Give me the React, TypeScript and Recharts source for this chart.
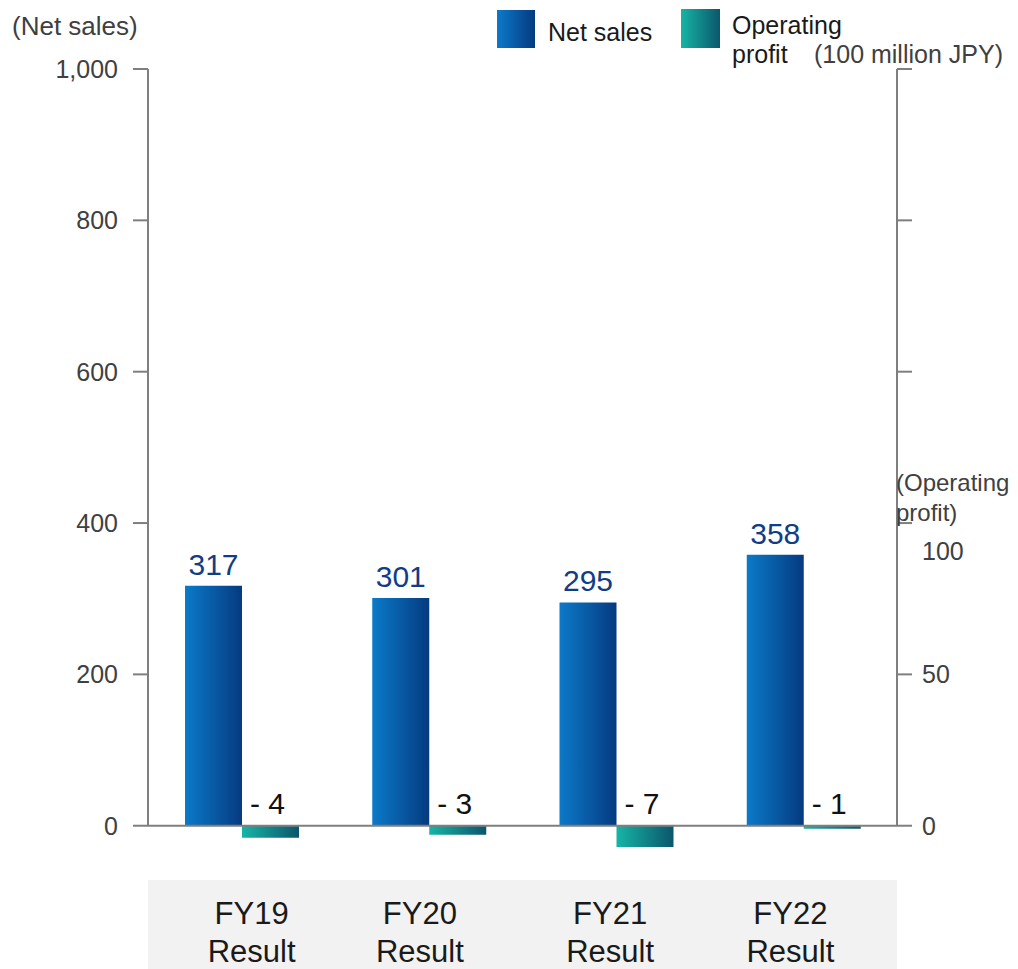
import React from 'react';
import { BarChart, Bar, XAxis, YAxis, CartesianGrid, ReferenceLine, LabelList } from 'recharts';

const categories = ['FY19', 'FY20', 'FY21', 'FY22'];
const categorySub = ['Result', 'Result', 'Result', 'Result'];
const netSales = [317, 301, 295, 358];
const operatingProfit = [-4, -3, -7, -1];
const leftTicks = [0, 200, 400, 600, 800, 1000];
const rightTicks = [0, 50, 100, 150, 200, 250];
const rightLabeledTicks = [0, 50, 100];

// small horizontal nudges of the category captions, as in the original layout
const captionNudge = [10, -9, -6, -13];

const data = categories.map((c, i) => ({ cat: c, sub: categorySub[i], net: netSales[i], op: operatingProfit[i] }));

const FONT = '"Liberation Sans", Arial, Helvetica, sans-serif';
const AXIS_GRAY = '#7f7f7f';

const XTick = (props: any) => {
  const { x, y, payload, width, visibleTicksCount } = props;
  const band = payload && payload.offset ? payload.offset * 2 : width / visibleTicksCount;
  const idx = categories.indexOf(payload.value);
  const cx = x + (captionNudge[idx] ?? 0);
  const first = idx === 0;
  const last = idx === categories.length - 1;
  const left = x - band / 2 - (first ? 0 : 1);
  const right = x + band / 2 + (last ? 0 : 1);
  return (
    <g>
      <rect x={left} y={y} width={right - left} height={89} fill="#f2f2f2" shapeRendering="crispEdges" />
      <text x={cx} y={y + 44} textAnchor="middle" fontSize={31} fill="#1a1a1a">{payload.value}</text>
      <text x={cx} y={y + 82} textAnchor="middle" fontSize={31} fill="#1a1a1a">{categorySub[idx] ?? 'Result'}</text>
    </g>
  );
};

const RightTick = (props: any) => {
  const { x, y, payload } = props;
  if (!rightLabeledTicks.includes(payload.value)) return <g />;
  const isTop = payload.value === rightLabeledTicks[rightLabeledTicks.length - 1];
  return (
    <text x={x} y={y + (isTop ? 28 : 0)} dy="0.355em" textAnchor="start" fontSize={25} fill="#404040">{payload.value}</text>
  );
};

const OpLabel = (props: any) => {
  const vb = props.viewBox || props;
  const { x, y, width, height } = vb;
  const value = props.value;
  const top = Math.min(y, y + height);
  const txt = value < 0 ? `- ${Math.abs(value)}` : `${value}`;
  return (
    <text x={x + width / 2 - 3} y={top - 12} textAnchor="middle" fontSize={30} fill="#111">{txt}</text>
  );
};

const gridGen = (props: any) => {
  const ax = props && props.yAxis;
  if (ax && typeof ax.scale === 'function') {
    return leftTicks.map((t) => ax.scale(t));
  }
  return [];
};

export default function App() {
  return (
    <div style={{ position: 'absolute', left: 0, top: 0, width: 1018, height: 969, fontFamily: FONT, background: '#fff' }}>
      <BarChart
        width={1018}
        height={969}
        data={data}
        margin={{ top: 69, right: 0, bottom: 0, left: 0 }}
        barGap={0}
      >
        <defs>
          <linearGradient id="gNet" x1="0" y1="0" x2="1" y2="0">
            <stop offset="0%" stopColor="#0b7ac9" />
            <stop offset="100%" stopColor="#053a80" />
          </linearGradient>
          <linearGradient id="gOp" x1="0" y1="0" x2="1" y2="0">
            <stop offset="0%" stopColor="#16b5a6" />
            <stop offset="100%" stopColor="#0b566b" />
          </linearGradient>
        </defs>
        <CartesianGrid
          yAxisId="left"
          vertical={false}
          stroke="#d6d6d6"
          strokeWidth={1.5}
          horizontalCoordinatesGenerator={gridGen}
        />
        <XAxis
          dataKey="cat"
          height={113}
          axisLine={false}
          tickLine={false}
          tickSize={0}
          tickMargin={24}
          interval={0}
          tick={<XTick />}
        />
        <YAxis
          yAxisId="left"
          orientation="left"
          width={148}
          domain={[-40, 1000]}
          ticks={leftTicks}
          axisLine={false}
          tickLine={{ stroke: AXIS_GRAY, strokeWidth: 2 }}
          tickSize={15}
          tickMargin={15}
          tick={{ fontSize: 25, fill: '#404040' }}
          tickFormatter={(v: number) => v.toLocaleString('en-US')}
          allowDecimals={false}
        />
        <YAxis
          yAxisId="right"
          orientation="right"
          width={121}
          domain={[-10, 250]}
          ticks={rightTicks}
          axisLine={false}
          tickLine={{ stroke: AXIS_GRAY, strokeWidth: 2 }}
          tickSize={15}
          tickMargin={10}
          tick={<RightTick />}
        />
        <Bar yAxisId="left" dataKey="net" barSize={57} fill="url(#gNet)" isAnimationActive={false}>
          <LabelList dataKey="net" position="top" offset={11} fill="#113d86" fontSize={30} />
        </Bar>
        <Bar yAxisId="right" dataKey="op" barSize={57} fill="url(#gOp)" isAnimationActive={false}>
          <LabelList dataKey="op" content={<OpLabel />} />
        </Bar>
        <ReferenceLine yAxisId="left" y={0} stroke={AXIS_GRAY} strokeWidth={2} />
        <ReferenceLine
          yAxisId="left"
          segment={[{ x: categories[0], y: 0 }, { x: categories[0], y: leftTicks[leftTicks.length - 1] }]}
          position="start"
          stroke={AXIS_GRAY}
          strokeWidth={2}
        />
        <ReferenceLine
          yAxisId="left"
          segment={[{ x: categories[categories.length - 1], y: 0 }, { x: categories[categories.length - 1], y: leftTicks[leftTicks.length - 1] }]}
          position="end"
          stroke={AXIS_GRAY}
          strokeWidth={2}
        />
      </BarChart>

      <div style={{ position: 'absolute', left: 12, top: 13, fontSize: 26, lineHeight: '26px', color: '#404040', whiteSpace: 'nowrap' }}>(Net sales)</div>

      <div style={{ position: 'absolute', left: 497, top: 10, width: 38, height: 38, background: 'linear-gradient(to right, #0b7ac9, #053a80)' }} />
      <div style={{ position: 'absolute', left: 548, top: 20, fontSize: 25, lineHeight: '25px', color: '#1a1a1a', whiteSpace: 'nowrap' }}>Net sales</div>
      <div style={{ position: 'absolute', left: 681, top: 9, width: 39, height: 39, background: 'linear-gradient(to right, #16b5a6, #0b566b)' }} />
      <div style={{ position: 'absolute', left: 732, top: 13, fontSize: 25, lineHeight: '25px', color: '#1a1a1a', whiteSpace: 'nowrap' }}>Operating</div>
      <div style={{ position: 'absolute', left: 732, top: 42, fontSize: 25, lineHeight: '25px', color: '#1a1a1a', whiteSpace: 'nowrap' }}>profit</div>
      <div style={{ position: 'absolute', left: 814, top: 42, fontSize: 25, lineHeight: '25px', color: '#404040', whiteSpace: 'nowrap' }}>(100 million JPY)</div>

      <div style={{ position: 'absolute', left: 896, top: 468, fontSize: 24, lineHeight: '30px', color: '#404040', whiteSpace: 'nowrap' }}>(Operating<br />profit)</div>
    </div>
  );
}
